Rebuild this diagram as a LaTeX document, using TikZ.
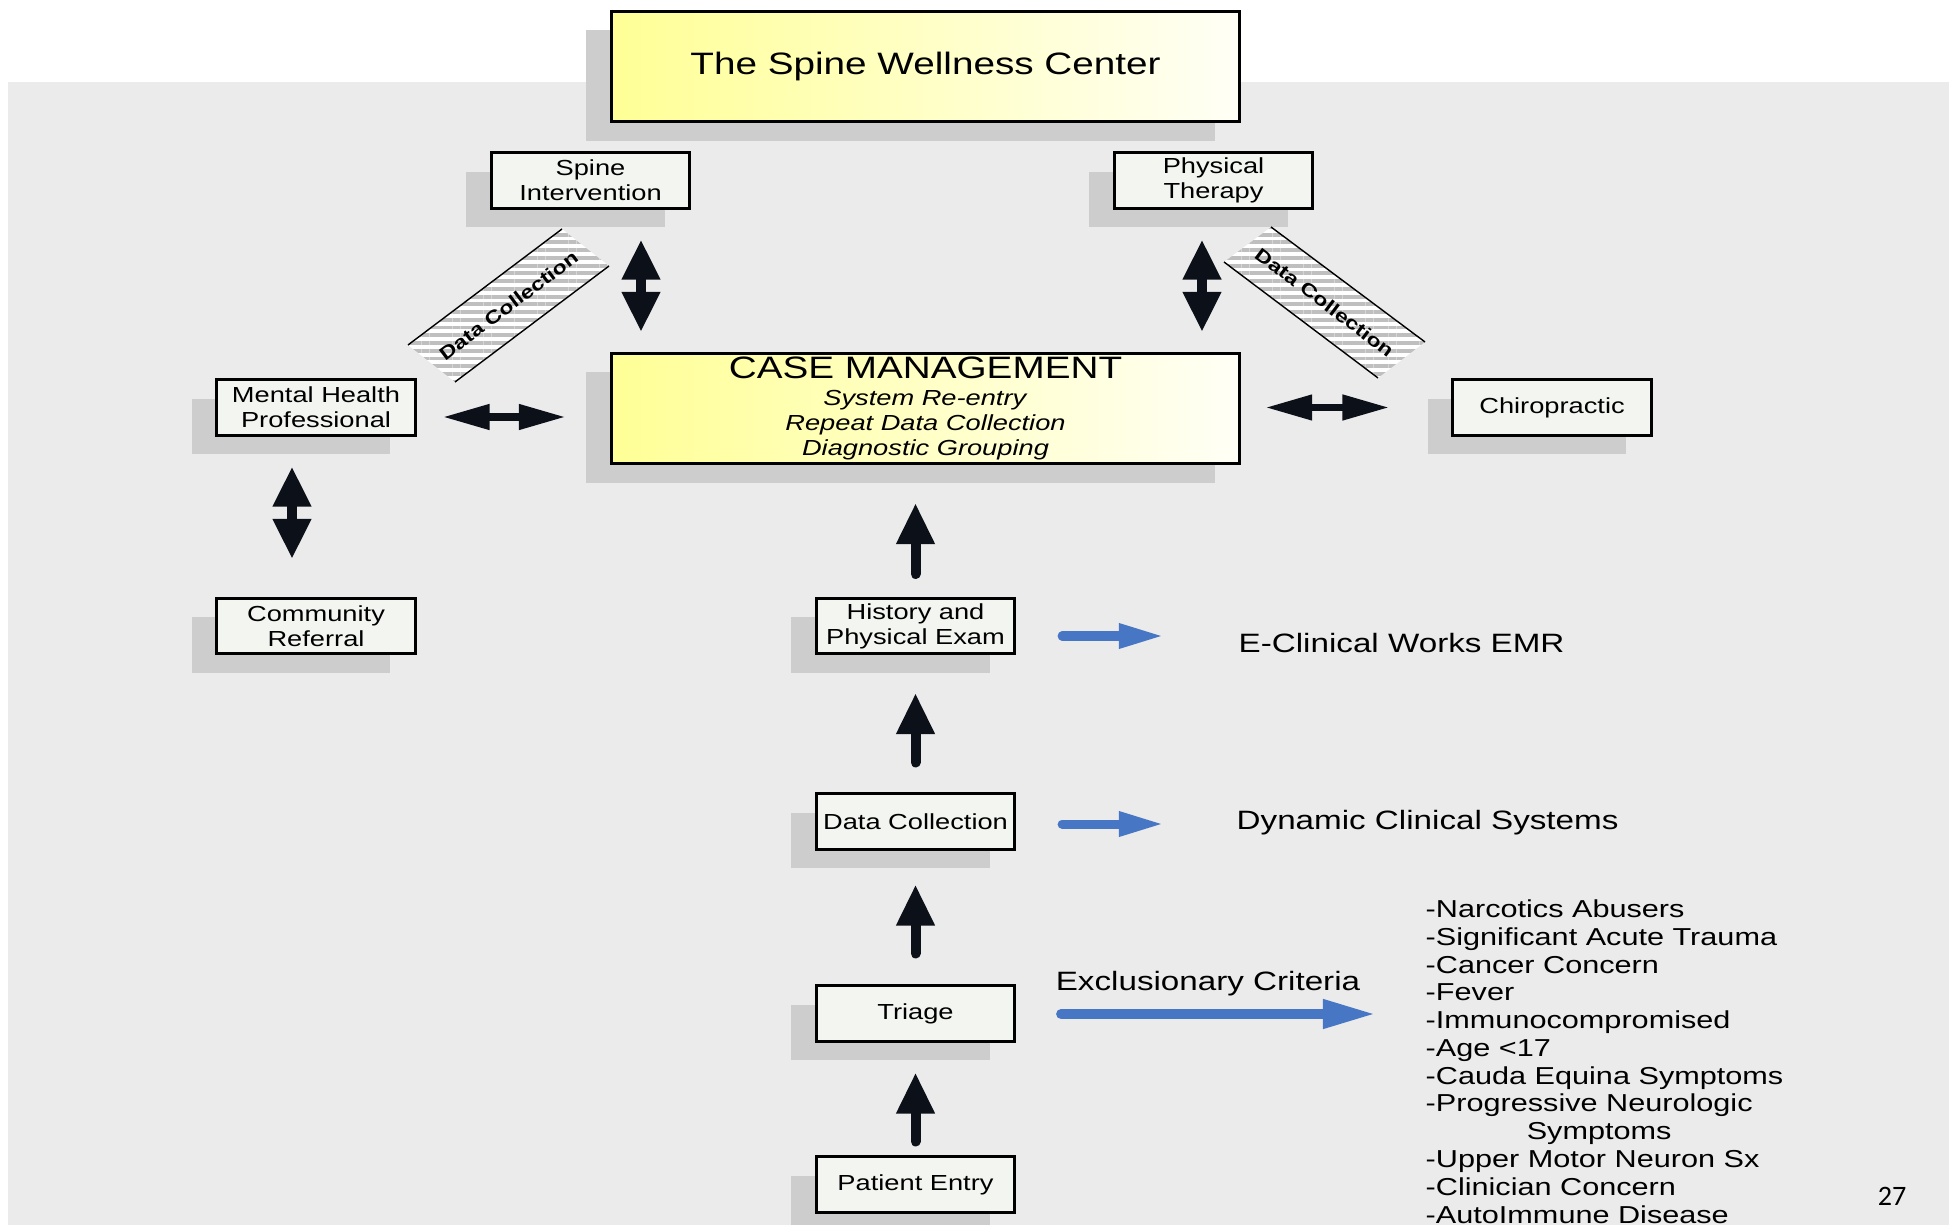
\documentclass[tikz,border=0pt]{standalone}
\usepackage{fontspec}
\setmainfont{Liberation Sans}[FakeStretch=1.25]
\newfontfamily\numfont{Carlito}
\usepackage{xcolor}
\usepackage{tikz}
\usetikzlibrary{arrows.meta,shadows,patterns.meta}

\definecolor{panel}{RGB}{235,235,235}
\definecolor{boxfill}{RGB}{243,246,240}
\definecolor{shadowgray}{RGB}{205,205,205}
\definecolor{ylwdark}{RGB}{255,255,150}
\definecolor{ylwlight}{RGB}{255,255,246}
\definecolor{arrowblk}{RGB}{12,16,24}
\definecolor{arrowblue}{RGB}{71,118,196}

\begin{document}
\begin{tikzpicture}[x=0.01cm,y=-0.01cm,
        shadowed/.style={drop shadow={shadow xshift=-0.25cm,shadow yshift=-0.19cm,fill=shadowgray,opacity=1}},
        smallbox/.style={draw,line width=0.03cm,fill=boxfill,shadowed,minimum width=1.98cm,minimum height=0.55cm,
            inner sep=0pt,align=center,font=\fontsize{6.2}{7.1}\selectfont},
        bigbox/.style={draw,line width=0.03cm,left color=ylwdark,right color=ylwlight,shadowed,
            minimum width=6.28cm,minimum height=1.10cm,inner sep=0pt,align=center,font=\fontsize{6.2}{7.1}\selectfont},
        sidelabel/.style={inner sep=0pt,font=\fontsize{7.55}{9}\selectfont},
        banner/.style={preaction={fill=white},pattern={Lines[angle=0,distance=2.2pt,line width=1.1pt]},pattern color=black!25},
        bannertext/.style={inner sep=0pt,font=\bfseries\fontsize{5.25}{6}\selectfont},
        dblv/.style={arrowblk,line width=0.1cm,{Triangle[length=0.40cm,width=0.36cm]}-{Triangle[length=0.40cm,width=0.36cm]}},
        dblh/.style={arrowblk,line width=0.075cm,{Triangle[length=0.47cm,width=0.24cm]}-{Triangle[length=0.47cm,width=0.24cm]}},
        uparrow/.style={arrowblk,line width=0.1cm,line cap=round,-{Triangle[length=0.41cm,width=0.36cm]}},
        bluearrow/.style={arrowblue,line width=0.09cm,line cap=round,-{Triangle[length=0.45cm,width=0.23cm]}}
    ]
        \useasboundingbox (0,0) rectangle (1955,1225);
        \fill[panel] (8,82) rectangle (1949,1225);

        \node[bigbox,font=\fontsize{8.8}{10}\selectfont] (swc) at (925.5,66.5) {The Spine Wellness Center};
        \node[bigbox] (cm) at (925.5,408.5) {{\fontsize{8.8}{9}\selectfont CASE MANAGEMENT}\\[0.6pt]
            \textit{System Re-entry}\\\textit{Repeat Data Collection}\\\textit{Diagnostic Grouping}};

        \node[smallbox] (si) at (590.5,180.5) {Spine\\Intervention};
        \node[smallbox] (pt) at (1213.5,180.5) {Physical\\Therapy};
        \node[smallbox] (mh) at (316,407.5) {Mental Health\\Professional};
        \node[smallbox] (chiro) at (1552,407.5) {Chiropractic};
        \node[smallbox] (cr) at (316,626) {Community\\Referral};
        \node[smallbox] (hist) at (915.5,626) {History and\\Physical Exam};
        \node[smallbox] (dc) at (915.5,821.5) {Data Collection};
        \node[smallbox] (tri) at (915.5,1013.5) {Triage};
        \node[smallbox] (pe) at (915.5,1184.5) {Patient Entry};

        \path[banner] (408,345) -- (562,229) -- (609,266) -- (455,382) -- cycle;
        \draw[thin] (408,345) -- (562,229) (455,382) -- (609,266);
        \node[bannertext,rotate=37] (dcleft) at (508.5,305.5) {Data Collection};
        \path[banner] (1224,262) -- (1271,227) -- (1425,342) -- (1378,378) -- cycle;
        \draw[thin] (1224,262) -- (1378,378) (1271,227) -- (1425,342);
        \node[bannertext,rotate=-37] (dcright) at (1324.5,302.3) {Data Collection};

        \draw[dblv,shorten <=0.3cm,shorten >=0.2cm] (641,0 |- si.south) -- (641,0 |- cm.north);
        \draw[dblv,shorten <=0.3cm,shorten >=0.2cm] (1202,0 |- pt.south) -- (1202,0 |- cm.north);
        \draw[dblv,shorten <=0.3cm,shorten >=0.38cm] (292,0 |- mh.south) -- (292,0 |- cr.north);
        \draw[dblh,shorten <=0.26cm,shorten >=0.44cm] (mh.east |- 0,417) -- (cm.west |- 0,417);
        \draw[dblh,shorten <=0.24cm,shorten >=0.62cm] (cm.east |- chiro.west) -- (chiro.west);

        \draw[uparrow,shorten <=0.23cm,shorten >=0.38cm] (hist.north) -- (hist.north |- cm.south);
        \draw[uparrow,shorten <=0.30cm,shorten >=0.38cm] (dc.north) -- (hist.south);
        \draw[uparrow,shorten <=0.31cm,shorten >=0.34cm] (tri.north) -- (dc.south);
        \draw[uparrow,shorten <=0.14cm,shorten >=0.30cm] (pe.north) -- (tri.south);

        \node[sidelabel,anchor=west] (emr) at (1238,643) {E-Clinical Works EMR};
        \node[sidelabel,anchor=west] (dcs) at (1236,823) {Dynamic Clinical Systems};
        \node[sidelabel] (excl) at (1208,984) {Exclusionary Criteria};
        \node[inner sep=0pt,anchor=north west,align=left,font=\fontsize{6.97}{7.9}\selectfont] (crit) at (1425,899)
            {-Narcotics Abusers\\-Significant Acute Trauma\\-Cancer Concern\\-Fever\\-Immunocompromised\\-Age <17\\
            -Cauda Equina Symptoms\\-Progressive Neurologic\\\hspace*{1.01cm}Symptoms\\-Upper Motor Neuron Sx\\
            -Clinician Concern\\-AutoImmune Disease};

        \draw[bluearrow,shorten <=0.46cm,shorten >=0.74cm] (hist.east |- 0,636) -- (emr.west |- 0,636);
        \draw[bluearrow,shorten <=0.46cm,shorten >=0.72cm] (dc.east |- 0,824) -- (dcs.west |- 0,824);
        \draw[bluearrow,line width=0.1cm,-{Triangle[length=0.53cm,width=0.27cm]},shorten <=0.45cm,shorten >=0.49cm]
            (tri.east |- 0,1014) -- (crit.west |- 0,1014);

        \node[font=\numfont\fontsize{8}{9}\selectfont] (pgnum) at (1892,1196) {27};
    \end{tikzpicture}
\end{document}
